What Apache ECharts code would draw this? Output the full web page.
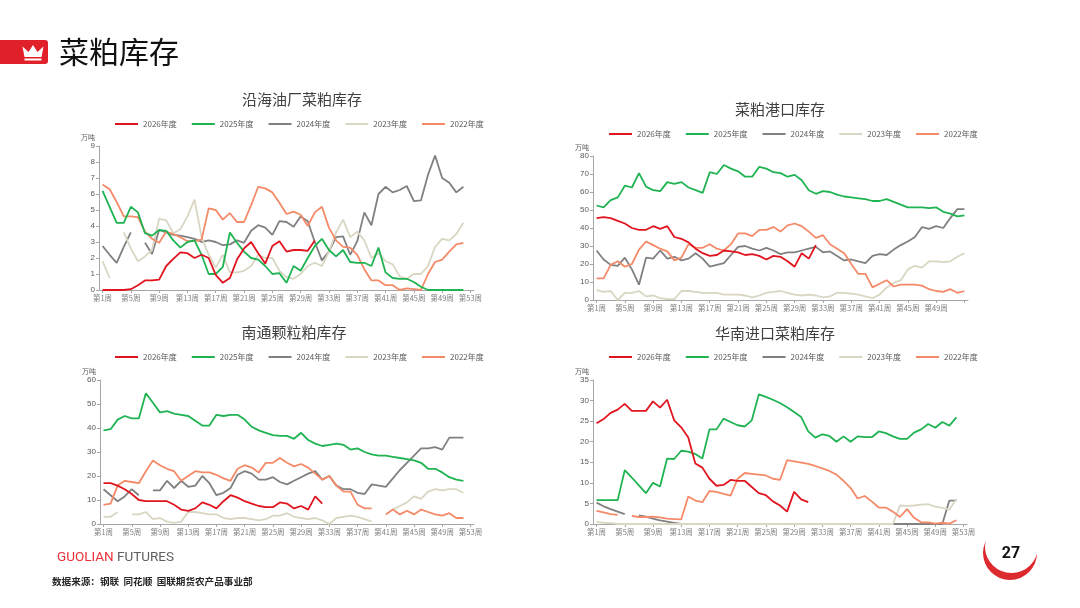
<!DOCTYPE html>
<html>
<head>
<meta charset="utf-8">
<script src="https://cdn.jsdelivr.net/npm/echarts@6/dist/echarts.min.js"></script>
<style>
html, body { margin: 0; padding: 0; background: #fff; }
#main { width: 1080px; height: 608px; }
</style>
</head>
<body>
<div id="main"></div>
<script>
// 周次
var weeks = [];
for (var w = 1; w <= 53; w++) weeks.push('第' + w + '周');
var years = ['2026年度', '2025年度', '2024年度', '2023年度', '2022年度'];
var colors = ['#e0151f', '#1fb352', '#808080', '#d9d6c3', '#f48a68'];
var layer = [14, 13, 10, 11, 12];

// 沿海油厂菜粕库存
var coast2026 = [0,0,0,0,0.05,0.3,0.6,0.6,0.65,1.5,1.95,2.35,2.3,2.0,2.2,2.0,0.95,0.45,0.75,1.9,2.6,3.0,2.3,1.65,2.75,3.05,2.4,2.5,2.5,2.45,3.1];
var coast2025 = [6.2,5.2,4.2,4.2,5.2,4.85,3.55,3.4,3.75,3.7,3.1,2.65,3.0,3.1,2.2,1.0,1.0,1.45,3.6,2.95,2.4,2.0,1.9,1.5,1.0,1.05,0.45,1.5,1.2,2.0,2.75,3.2,2.5,2.1,2.5,1.75,1.7,1.7,1.5,2.65,1.1,0.75,0.7,0.7,0.5,0.2,0,0,0,0,0,0];
var coast2024 = [2.75,2.2,1.7,2.7,3.6,null,2.95,2.25,3.75,3.6,3.45,3.4,3.3,3.2,3.0,3.1,3.0,2.8,2.85,3.1,2.95,3.7,4.05,3.9,3.45,4.3,4.25,3.95,4.6,4.3,3.0,1.85,2.4,3.3,3.35,2.2,3.05,4.85,4.05,6.0,6.45,6.1,6.25,6.5,5.55,5.6,7.2,8.4,7.0,6.7,6.1,6.45];
var coast2023 = [1.8,0.75,null,3.6,2.6,1.8,2.1,2.5,4.45,4.35,3.55,3.8,4.6,5.65,3.3,2.2,1.4,2.2,1.1,1.1,1.2,1.5,2.2,2.0,2.0,1.2,0.8,0.7,1.0,1.5,1.7,1.5,2.4,3.6,4.4,3.3,3.65,3.1,2.0,2.3,1.8,1.6,0.85,0.7,1.0,1.0,1.5,2.7,3.2,3.1,3.5,4.2];
var coast2022 = [6.6,6.3,5.5,4.6,4.6,4.55,3.65,3.2,2.95,3.65,3.5,3.3,3.05,3.05,3.15,5.1,5.0,4.4,4.8,4.25,4.25,5.3,6.45,6.35,6.1,5.45,4.75,4.9,4.7,4.0,4.85,5.2,3.9,3.1,2.7,2.65,2.2,1.3,0.6,0.6,0.3,0.3,0,0.1,0.05,0,1.0,1.75,1.9,2.4,2.85,2.95];

// 菜粕港口库存
var port2026 = [45.5,46,45.5,44,42.5,40,39,39,41,39.5,41,35,34,32,28.5,26,24.5,25,27.5,27,26.5,25,25.5,24.5,22.5,24.5,24,21.5,18.5,26,23,30.5];
var port2025 = [52.5,51.5,55.5,57,63.5,62.5,70.5,63,61,60.5,65.5,64.5,65.5,62.5,61,59.5,71,70,75,73,71.5,68.5,68.5,74,73,71,70.5,68.5,69.5,66.5,61,59,60.5,60,58.5,57.5,57,56.5,56,55,55,56,54.5,53,51.5,51.5,51.5,51,51.5,49,48,46.5,47];
var port2024 = [27.5,22.5,19.5,19,23.5,17,8.5,23.5,23,27.5,23,24,22,23,26,23,18.5,19.5,20.5,25,29.5,30,28.5,27.5,29,27.5,25.5,26.5,26.5,27.5,28.5,29.5,26.5,27,24.5,22,22.5,21.5,20.5,24.5,25.5,25,28,30.5,32.5,35,40.5,39.5,41,40,45.5,50.5,50.5];
var port2023 = [5.5,4.5,5,0,4,4,5,2,2.5,1,0.5,0.5,5,5,4.5,4,4,4,3,3,3,2.5,1.5,2.5,4,4.5,5,4,3,2.5,3,2.5,1.5,2,4,4,3.5,3,2,1,3,7,9.5,11,17,19,18,21.5,21.5,21,21.5,24,26];
var port2022 = [12,12,19.5,21.5,18.5,20,28,32.5,30.5,28.5,27,22,23.5,31,29,29,31,28.5,27.5,31,37,37,35.5,39,39,40.5,38,41.5,42.5,41,38,34.5,36,31,28.5,26,20,14.5,14.5,7,9,11,7.5,8.5,8.5,8.5,8,6,5,4.5,6,4,5];

// 南通颗粒粕库存
var nt2026 = [17,17,16,14.5,12.5,10,9.5,9.5,9.5,9.5,8,6,5.5,6.5,9,8,6.5,9.5,12,11,9.5,8.5,7.5,7,7,9,8.5,6.5,7.5,6,11.5,8.5];
var nt2025 = [39,39.5,43.5,45,44,44,54.5,50.5,46.5,47,46,45.5,45,43,41,41,45.5,45,45.5,45.5,43.5,40.5,39,38,37,36.7,36.7,35.5,38,35,33.5,32.5,33,33.5,33,31,31.5,30,29,28.5,28.5,28,27.5,27,26.5,25.5,23,23,21.5,19.5,18.5,18];
var nt2024 = [14.5,12,9.5,11.5,14.5,12,null,14,14,18,15,18,15.5,16,20,17,12,13,15,20.5,22,21,18.5,18.5,19.5,17.5,16.5,18,19.5,21,22,18.5,20,16,14.5,14.5,13,12.5,16.5,16,15.5,19,22.5,25.5,28.5,31.5,31.5,32,31,36,36,36];
var nt2023 = [3,3,5,null,4,4,5,2,2.5,1,0.5,1,5,5,4.5,4,4,2.5,2,2.5,2.5,2,1.5,2,3.5,3.5,4.5,3,2.5,2,2.5,1.5,0,2.5,3,3.5,3,2,1,null,null,6,7.5,9,11.5,10.5,13.5,14.5,14,14.5,14.5,13];
var nt2022 = [8,8.5,16,18,17.5,17,22,26.5,24.5,23,22,18,20,22,21.5,21.5,20.5,19,18,23,24.5,23.5,21.5,25.5,25.5,27.5,25.5,24,25,23.5,21,18.5,20,16,13.5,13.5,8,6.5,6.5,null,4,6,4,5.5,4,6,5,4,3.5,4.5,2.5,2.5];

// 华南进口菜粕库存
var hn2026 = [24.5,25.5,27,27.8,29.2,27.5,27.5,27.5,29.8,28.3,30.2,25.2,23.5,21,14.7,13.7,11,9.3,9.5,10.7,10.5,10.5,9,7.5,7,5.5,4.5,3,7.8,6,5.3];
var hn2025 = [5.8,5.8,5.8,5.8,13.1,11.3,9.4,7.5,10,9.1,15.9,15.8,17.8,17.6,17,15.9,23,23,25.6,24.8,24,23.7,25.2,31.5,30.9,30.2,29.4,28.4,27.2,26,22.5,21,21.8,21.4,20,21.3,20,21.3,21.1,21.1,22.5,22.1,21.3,20.7,20.7,22.2,23,24.3,23.4,24.8,23.9,25.9];
var hn2024 = [5.2,4.3,3.6,3.0,2.4,null,2.1,1.8,1.3,0.9,0.6,0.3,0,0,0,0,0,0,0,0,0,0,0,0,0,0,0,0,0,0,0,0,0,0,0,0,0,0,0,0,0,0,0,0,0,0,0,0,0,0,5.7,5.7];
var hn2023 = [0.5,0.3,0.2,0,0,0,0,0,0,0,0,0,0,0,0,0,0,0,0,0,0,0,0,0,0,0,0,0,0,0,0,0,0,0,0,0,0,0,0,0,0,0,0,4.5,4.4,4.5,4.7,4.8,4.2,3.9,3.5,6.1];
var hn2022 = [3.2,2.8,2.4,2.2,null,2.0,1.7,1.7,1.8,1.6,1.3,1.2,1.1,6.7,5.7,5.3,8,7.8,7.3,6.9,11,12.4,12.2,12,11.8,11,10.7,15.5,15.2,14.9,14.6,14.1,13.5,12.9,12,10.5,8.8,6.2,6.8,5.5,4,4,3,1.7,3.6,1.5,0.4,0.4,0.1,0.3,0.1,0.9];

var panels = [
  { name: '沿海油厂菜粕库存', tx: 302, ty: 99, grid: [99, 146, 375, 144], max: 9, step: 1, lx: 115, ly: 120,
    data: [coast2026, coast2025, coast2024, coast2023, coast2022], hideLast: false },
  { name: '菜粕港口库存', tx: 780, ty: 109, grid: [593, 156, 375, 144], max: 80, step: 10, lx: 609, ly: 130,
    data: [port2026, port2025, port2024, port2023, port2022], hideLast: true },
  { name: '南通颗粒粕库存', tx: 294, ty: 332, grid: [100, 380, 374, 144], max: 60, step: 10, lx: 115, ly: 353,
    data: [nt2026, nt2025, nt2024, nt2023, nt2022], hideLast: false },
  { name: '华南进口菜粕库存', tx: 775, ty: 333, grid: [593, 380, 374, 144], max: 35, step: 5, lx: 609, ly: 353,
    data: [hn2026, hn2025, hn2024, hn2023, hn2022], hideLast: false }
];

var cjk = '"Noto Sans CJK SC", "Noto Sans", sans-serif';
var grids = [], xAxes = [], yAxes = [], legends = [], series = [];
var graphics = [];

panels.forEach(function (p, i) {
  grids.push({ left: p.grid[0], top: p.grid[1], width: p.grid[2], height: p.grid[3] });
  var hide = p.hideLast;
  xAxes.push({
    type: 'category', gridIndex: i, data: weeks, boundaryGap: true,
    axisLine: { lineStyle: { color: '#a6a6a6', width: 1 } },
    axisTick: { show: true, length: 3, alignWithLabel: true, interval: 3, lineStyle: { color: '#a6a6a6' } },
    axisLabel: {
      fontSize: 7.5, color: '#7f7f7f', margin: 4, fontFamily: cjk,
      interval: function (idx) { return idx % 4 === 0 && !(hide && idx === 52); }
    },
    splitLine: { show: false }
  });
  yAxes.push({
    type: 'value', gridIndex: i, min: 0, max: p.max, interval: p.step,
    name: '万吨', nameLocation: 'end', nameGap: 5,
    nameTextStyle: { fontSize: 7, color: '#595959', align: 'right', padding: [0, 4, 0, 0], fontFamily: cjk },
    axisLine: { show: true, lineStyle: { color: '#a6a6a6', width: 1 } },
    axisTick: { show: true, length: 3, lineStyle: { color: '#a6a6a6' } },
    axisLabel: { fontSize: 8, color: '#595959', margin: 4, fontFamily: 'Liberation Sans, Arial, sans-serif' },
    splitLine: { show: false }
  });
  legends.push({
    left: p.lx, top: p.ly, padding: 0, itemGap: 15, itemWidth: 23, itemHeight: 2,
    icon: 'rect', data: years,
    textStyle: { fontSize: 8, color: '#595959', fontFamily: cjk }
  });
  years.forEach(function (y, k) {
    series.push({
      name: y, type: 'line', xAxisIndex: i, yAxisIndex: i,
      data: p.data[k], showSymbol: false, symbol: 'none', connectNulls: false,
      lineStyle: { color: colors[k], width: 1.8 }, itemStyle: { color: colors[k] },
      z: layer[k]
    });
  });
  graphics.push({
    type: 'text', x: p.tx, y: p.ty,
    style: { text: p.name, fontSize: 15, fontFamily: cjk, fill: '#404040', textAlign: 'center', textVerticalAlign: 'middle' }
  });
});

// 页眉
graphics.push(
  { type: 'rect', shape: { x: 0, y: 40, width: 48, height: 24, r: [0, 3, 3, 0] }, style: { fill: '#e0212a' } },
  { type: 'polygon', shape: { points: [[22.5, 46.5], [28.5, 52], [33, 45], [37.5, 52], [43.5, 46.5], [41.5, 57], [24.5, 57]] }, style: { fill: '#fff' } },
  { type: 'rect', shape: { x: 24.5, y: 58.5, width: 17, height: 2 }, style: { fill: '#fff' } },
  { type: 'text', x: 59, y: 52, style: { text: '菜粕库存', fontSize: 30, fontFamily: cjk, fill: '#111', textVerticalAlign: 'middle' } },
  // 页脚
  { type: 'text', x: 57, y: 558, style: { text: 'GUOLIAN', fontSize: 13.5, fontFamily: 'Roboto, sans-serif', fill: '#e8313a', textVerticalAlign: 'middle' } },
  { type: 'text', x: 117, y: 558, style: { text: 'FUTURES', fontSize: 13.5, fontFamily: 'Roboto, sans-serif', fill: '#606060', textVerticalAlign: 'middle' } },
  { type: 'text', x: 52, y: 581, style: { text: '数据来源：钢联  同花顺  国联期货农产品事业部', fontSize: 9.6, fontWeight: 'bold', fontFamily: cjk, fill: '#262626', textVerticalAlign: 'middle' } },
  { type: 'circle', shape: { cx: 1010, cy: 553, r: 27 }, style: { fill: '#dc2a2f' } },
  { type: 'circle', shape: { cx: 1011.5, cy: 546.5, r: 26.5 }, style: { fill: '#fff' } },
  { type: 'text', x: 1011, y: 554, style: { text: '27', fontSize: 16, fontWeight: 'bold', fontFamily: 'Roboto, sans-serif', fill: '#111', textAlign: 'center', textVerticalAlign: 'middle' } }
);

var chart = echarts.init(document.getElementById('main'));
chart.setOption({
  animation: false,
  backgroundColor: '#fff',
  grid: grids,
  xAxis: xAxes,
  yAxis: yAxes,
  legend: legends,
  series: series,
  graphic: { elements: graphics }
});
</script>
</body>
</html>
